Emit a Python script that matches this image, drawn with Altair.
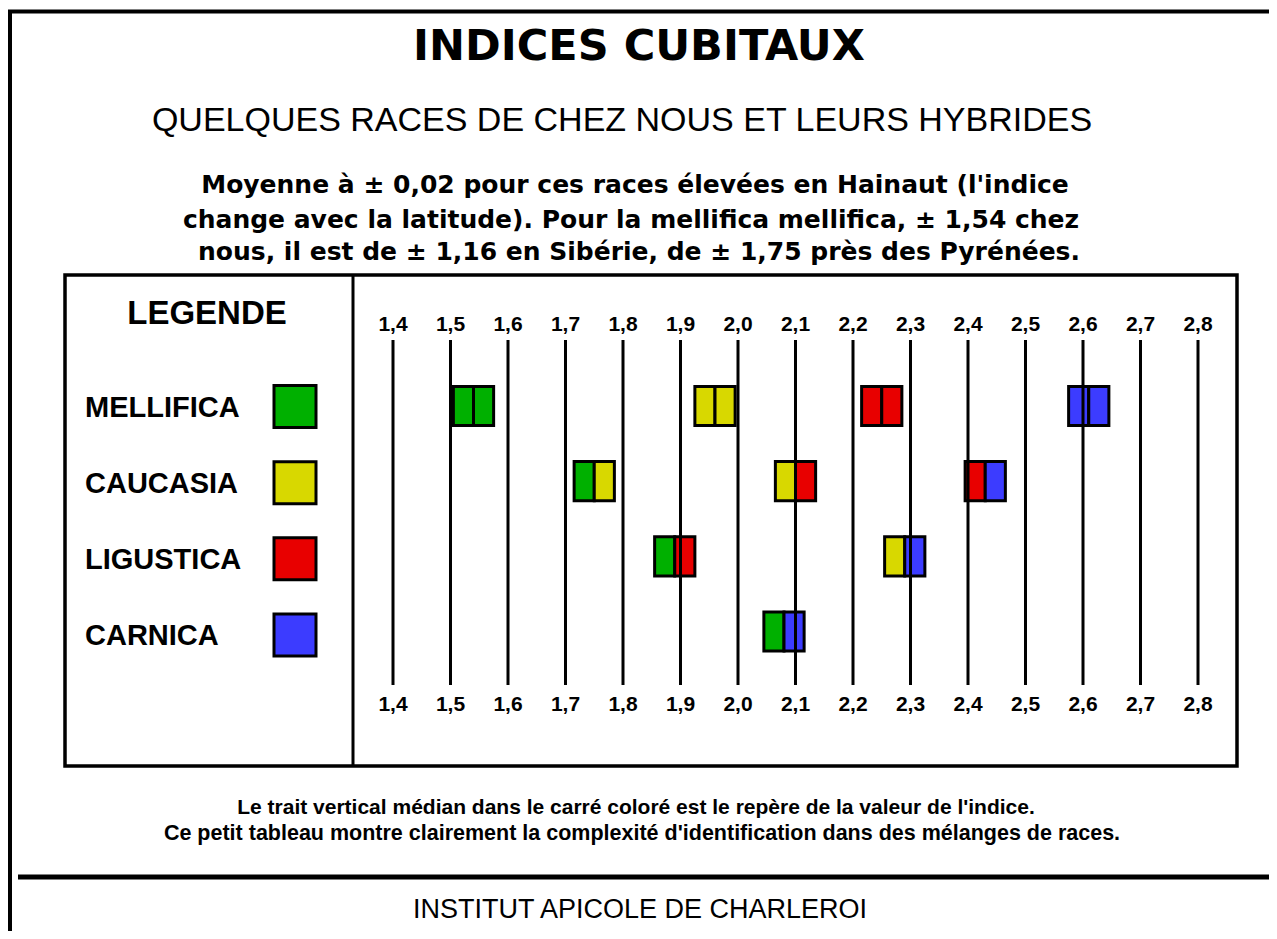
import altair as alt
import pandas as pd

# ---------------- data ----------------
tick_values = [1.4, 1.5, 1.6, 1.7, 1.8, 1.9, 2.0, 2.1, 2.2, 2.3, 2.4, 2.5, 2.6, 2.7, 2.8]
tick_labels = ["1,4", "1,5", "1,6", "1,7", "1,8", "1,9", "2,0", "2,1",
               "2,2", "2,3", "2,4", "2,5", "2,6", "2,7", "2,8"]

races = ["MELLIFICA", "CAUCASIA", "LIGUSTICA", "CARNICA"]
race_rows = [0, 1, 2, 3]
race_colors = ["#00b000", "#d8d800", "#e80000", "#3c3cff"]

box_rows = [0, 0, 0, 0, 1, 1, 1, 2, 2, 3]
box_values = [1.54, 1.96, 2.25, 2.61, 1.75, 2.10, 2.43, 1.89, 2.29, 2.08]
box_left = ["MELLIFICA", "CAUCASIA", "LIGUSTICA", "CARNICA",
            "MELLIFICA", "CAUCASIA", "LIGUSTICA",
            "MELLIFICA", "CAUCASIA",
            "MELLIFICA"]
box_right = ["MELLIFICA", "CAUCASIA", "LIGUSTICA", "CARNICA",
             "CAUCASIA", "LIGUSTICA", "CARNICA",
             "LIGUSTICA", "CARNICA",
             "CARNICA"]

title = "INDICES CUBITAUX"
subtitle = "QUELQUES RACES DE CHEZ NOUS ET LEURS HYBRIDES"
para = ["Moyenne à ± 0,02 pour ces races élevées en Hainaut (l'indice",
        "change avec la latitude). Pour la mellifica mellifica, ± 1,54 chez",
        "nous, il est de ± 1,16 en Sibérie, de ± 1,75 près des Pyrénées."]
notes = ["Le trait vertical médian dans le carré coloré est le repère de la valeur de l'indice.",
         "Ce petit tableau montre clairement la complexité d'identification dans des mélanges de races."]
footer = "INSTITUT APICOLE DE CHARLEROI"
legend_title = "LEGENDE"

# ---------------- tables ----------------
n = len(box_values)
halves = pd.DataFrame({
    "row": box_rows * 2,
    "value": box_values * 2,
    "race": box_left + box_right,
    "side": ["left"] * n + ["right"] * n,
})
ticks = pd.DataFrame({"v": tick_values, "label": tick_labels})
legend_df = pd.DataFrame({"race": races, "lrow": race_rows})
one = pd.DataFrame({"k": [0]})

W, H = 1261, 923
FONT = "Liberation Sans"

xscale = alt.Scale(domain=[1.4, 2.8], range=[385, 1190], nice=False, zero=False)
yscale = alt.Scale(domain=[0, 3], range=[398, 623.5], nice=False, zero=False)
lscale = alt.Scale(domain=[0, 3], range=[398.5, 627], nice=False, zero=False)
cscale = alt.Scale(domain=races, range=race_colors)


def txt(t, x, y, size, weight="normal", font=FONT, align="center"):
    return alt.Chart(one).mark_text(
        text=t, fontSize=size, fontWeight=weight, font=font, align=align,
        baseline="alphabetic", color="black"
    ).encode(x=alt.value(x), y=alt.value(y))


def hline(x1, x2, y, w):
    return alt.Chart(one).mark_rule(color="black", strokeWidth=w).encode(
        x=alt.value(x1), x2=alt.value(x2), y=alt.value(y))


def vline(x, y1, y2, w):
    return alt.Chart(one).mark_rule(color="black", strokeWidth=w).encode(
        x=alt.value(x), y=alt.value(y1), y2=alt.value(y2))


# frames
outer_top = hline(0, W, 3.5, 4)
outer_left = vline(2, 3.5, H, 4)
footer_line = hline(10, W, 869, 5)
inner_box = alt.Chart(one).mark_rect(fill="white", stroke="black", strokeWidth=3.5).encode(
    x=alt.value(57), x2=alt.value(1229), y=alt.value(267), y2=alt.value(758))
divider = vline(345, 267, 758, 3)

# legend
leg_title = txt(legend_title, 199, 316, 33, "bold")
leg_labels = alt.Chart(legend_df).mark_text(
    align="left", baseline="alphabetic", fontSize=29, fontWeight="bold", font=FONT,
    color="black", dy=10
).encode(
    x=alt.value(77),
    y=alt.Y("lrow:Q", scale=lscale, axis=None),
    text="race:N",
)
leg_squares = alt.Chart(legend_df).mark_square(
    size=1764, stroke="black", strokeWidth=3, opacity=1, filled=True
).encode(
    x=alt.value(287),
    y=alt.Y("lrow:Q", scale=lscale, axis=None),
    fill=alt.Fill("race:N", scale=cscale, legend=None),
)

# boxes (two halves: left colour / right colour, divider = index value)
boxes = alt.Chart(halves).transform_calculate(
    xa="datum.side == 'left' ? datum.value - 0.035 : datum.value",
    xb="datum.side == 'left' ? datum.value : datum.value + 0.035",
    ya="datum.row - 0.26",
    yb="datum.row + 0.26",
).mark_rect(stroke="black", strokeWidth=3).encode(
    x=alt.X("xa:Q", scale=xscale, axis=None),
    x2="xb:Q",
    y=alt.Y("ya:Q", scale=yscale, axis=None),
    y2="yb:Q",
    fill=alt.Fill("race:N", scale=cscale, legend=None),
)

# vertical index lines
grid = alt.Chart(ticks).mark_rule(color="black", strokeWidth=3).encode(
    x=alt.X("v:Q", scale=xscale, axis=None),
    y=alt.value(332), y2=alt.value(677),
)
top_labels = alt.Chart(ticks).mark_text(
    fontSize=21, fontWeight="bold", font=FONT, baseline="alphabetic", color="black"
).encode(x=alt.X("v:Q", scale=xscale, axis=None), y=alt.value(323), text="label:N")
bottom_labels = alt.Chart(ticks).mark_text(
    fontSize=21, fontWeight="bold", font=FONT, baseline="alphabetic", color="black"
).encode(x=alt.X("v:Q", scale=xscale, axis=None), y=alt.value(703), text="label:N")

# texts
t_title = txt(title, 631, 52, 43, "bold", font="DejaVu Sans")
t_sub = txt(subtitle, 614, 123, 34)
t_p1 = txt(para[0], 627, 185, 25, "bold", font="DejaVu Sans")
t_p2 = txt(para[1], 623, 220, 25, "bold", font="DejaVu Sans")
t_p3 = txt(para[2], 631, 252, 25, "bold", font="DejaVu Sans")
t_n1 = txt(notes[0], 628, 806, 21, "bold")
t_n2 = txt(notes[1], 634, 832, 21.5, "bold")
t_foot = txt(footer, 632, 910, 27)

chart = alt.layer(
    inner_box, outer_top, outer_left, footer_line, divider,
    leg_title, leg_labels, leg_squares,
    boxes, grid, top_labels, bottom_labels,
    t_title, t_sub, t_p1, t_p2, t_p3, t_n1, t_n2, t_foot,
).resolve_scale(
    y="independent"
).properties(
    width=W, height=H, padding=0,
    autosize=alt.AutoSizeParams(type="none"),
    background="white",
).configure_view(stroke=None)

chart.save("out.html", embed_options={"renderer": "svg", "actions": False})
